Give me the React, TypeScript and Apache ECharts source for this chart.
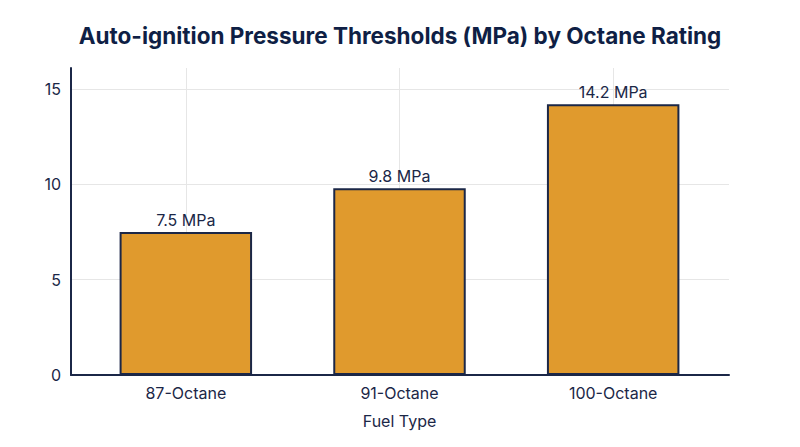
import React, { useEffect, useRef } from "react";
import * as echarts from "echarts";

const categories = ["87-Octane", "91-Octane", "100-Octane"];
const pressures = [7.5, 9.8, 14.2];
const yTicks = [0, 5, 10, 15];
const yMax = 16.1;

const NAVY = "#1b2747";
const FONT = "Inter, 'Noto Sans', sans-serif";

export default function App() {
  const ref = useRef<HTMLDivElement>(null);
  useEffect(() => {
    if (!ref.current) return;
    document.body.style.margin = "0";
    const chart = echarts.init(ref.current, undefined, { renderer: "svg" });
    chart.setOption({
      animation: false,
      backgroundColor: "#ffffff",
      title: {
        text: "Auto-ignition Pressure Thresholds (MPa) by Octane Rating",
        left: "center",
        top: 19,
        textStyle: { fontFamily: FONT, fontSize: 22.5, fontWeight: "bold", color: "#0f1f45" },
      },
      grid: [
        { left: 71, right: 71, top: 68, bottom: 72 },
        { left: 79, right: 80, top: 68, bottom: 72 },
      ],
      xAxis: [
        {
          gridIndex: 0,
          type: "category",
          data: categories,
          axisLine: { show: true, lineStyle: { color: NAVY, width: 2 } },
          axisTick: { show: false },
          axisLabel: { show: false },
          splitLine: { show: false },
        },
        {
          gridIndex: 1,
          type: "category",
          data: categories,
          name: "Fuel Type",
          nameLocation: "middle",
          nameGap: 38,
          nameTextStyle: { fontFamily: FONT, fontSize: 16, color: NAVY },
          axisLine: { show: false },
          axisTick: { show: false, alignWithLabel: true },
          axisLabel: { fontFamily: FONT, fontSize: 16, color: NAVY, margin: 10 },
          splitLine: { show: true, alignWithLabel: true, lineStyle: { color: "#e6e6e6", width: 1 } },
        },
      ],
      yAxis: [
        {
          gridIndex: 0,
          type: "value",
          min: yTicks[0],
          max: yMax,
          interval: 5,
          axisLine: { show: true, lineStyle: { color: NAVY, width: 2 } },
          axisTick: { show: false },
          axisLabel: {
            fontFamily: FONT,
            fontSize: 16,
            color: NAVY,
            margin: 10,
            showMaxLabel: false,
          },
          splitLine: { show: true, showMaxLine: false, lineStyle: { color: "#e6e6e6", width: 1 } },
        },
        {
          gridIndex: 1,
          type: "value",
          min: yTicks[0],
          max: yMax,
          show: false,
          splitLine: { show: false },
        },
      ],
      series: [
        {
          type: "bar",
          xAxisIndex: 1,
          yAxisIndex: 1,
          data: pressures,
          barWidth: "62%",
          itemStyle: { color: "#e09a2d", borderColor: NAVY, borderWidth: 2 },
          label: {
            show: true,
            position: "top",
            distance: 4,
            formatter: (p: any) => `${p.value} MPa`,
            fontFamily: FONT,
            fontSize: 16,
            color: NAVY,
          },
        },
      ],
    });
    return () => chart.dispose();
  }, []);
  return <div ref={ref} style={{ width: 800, height: 447 }} />;
}
